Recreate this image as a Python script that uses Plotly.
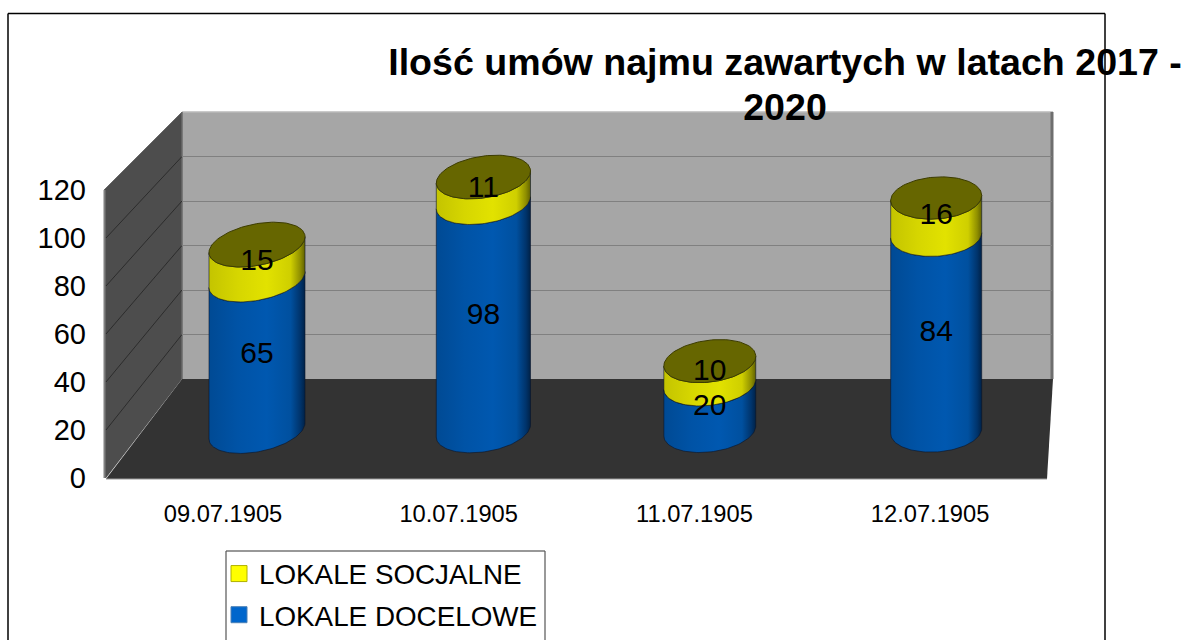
import numpy as np
import plotly.graph_objects as go

categories = ["09.07.1905", "10.07.1905", "11.07.1905", "12.07.1905"]
docelowe = [65, 98, 20, 84]
socjalne = [15, 11, 10, 16]
y_ticks = [0, 20, 40, 60, 80, 100, 120]
title_text = '<span style="font-size:37.6px">Ilość umów najmu zawartych w latach 2017 -<br>2020</span>'
W, H = 1184, 640


def px(x):
    return x / W


def py(y):
    return 1 - y / H


# cylinder projection (axis units)
half_w = [0.212, 0.208, 0.203, 0.201]
tilt = [3.4, 2.6, 2.1, 1.1]
minor = 9.0
BLUE = [[0, "#004a94"], [0.3, "#0053a6"], [0.6, "#0058b0"], [0.85, "#00509f"], [0.95, "#00346c"], [1, "#002248"]]
YEL = [[0, "#c4c400"], [0.3, "#d6d600"], [0.6, "#e2e200"], [0.85, "#cfcf00"], [0.95, "#8f8f00"], [1, "#626200"]]
OUT = "rgba(10,20,40,0.6)"


def arc(i, level, t):
    return i + half_w[i] * np.cos(t), level + tilt[i] * np.cos(t) - minor * np.sin(t)


def body(i, v0, v1, scale):
    tb = np.linspace(np.pi, 0, 60)
    tt = np.linspace(0, np.pi, 60)
    x0, y0 = arc(i, v0, tb)
    x1, y1 = arc(i, v1, tt)
    return go.Scatter(
        x=np.r_[x0, x1, x0[0]], y=np.r_[y0, y1, y0[0]], xaxis="x2", yaxis="y2",
        mode="lines", fill="toself", line=dict(color=OUT, width=1),
        fillgradient=dict(type="horizontal", colorscale=scale, start=i - half_w[i], stop=i + half_w[i]),
        showlegend=False, hoverinfo="skip",
    )


fig = go.Figure()

# activates the back-wall grid subplot
fig.add_trace(go.Scatter(x=[0], y=[0], mode="none", showlegend=False, hoverinfo="skip"))

for i in range(len(categories)):
    fig.add_trace(body(i, 0, docelowe[i], BLUE))
for i in range(len(categories)):
    fig.add_trace(body(i, docelowe[i], docelowe[i] + socjalne[i], YEL))
for i in range(len(categories)):
    t = np.linspace(0, 2 * np.pi, 120)
    xe, ye = arc(i, docelowe[i] + socjalne[i], t)
    fig.add_trace(go.Scatter(x=xe, y=ye, xaxis="x2", yaxis="y2", mode="lines", fill="toself",
                             fillcolor="#666600", line=dict(color="#3c3c00", width=1),
                             showlegend=False, hoverinfo="skip"))

idx = list(range(len(categories)))
fig.add_trace(go.Scatter(x=idx, y=[d / 2 for d in docelowe], xaxis="x2", yaxis="y2", mode="text",
                         text=[str(d) for d in docelowe], textposition="middle center",
                         textfont=dict(family="Liberation Sans", size=30, color="black"),
                         showlegend=False, hoverinfo="skip"))
fig.add_trace(go.Scatter(x=idx, y=[d + s / 2 for d, s in zip(docelowe, socjalne)], xaxis="x2", yaxis="y2",
                         mode="text", text=[str(s) for s in socjalne], textposition="middle center",
                         textfont=dict(family="Liberation Sans", size=30, color="black"),
                         showlegend=False, hoverinfo="skip"))

# legend + tick axes
for name, col, edge, grp in [("LOKALE SOCJALNE", "#ffff00", "#b0b000", "a"), ("LOKALE DOCELOWE", "#0066cc", "#4a7fb5", "b")]:
    fig.add_trace(go.Scatter(x=[None], y=[None], xaxis="x3", yaxis="y3", mode="markers", name=name,
                             legendgroup=grp,
                             marker=dict(symbol="square", size=16, color=col, line=dict(color=edge, width=1))))

shapes = []


def poly(points, fill, line=None, w=0):
    path = "M " + " L ".join(f"{px(a):.5f},{py(b):.5f}" for a, b in points) + " Z"
    shapes.append(dict(type="path", xref="paper", yref="paper", path=path, fillcolor=fill,
                       line=dict(color=line or fill, width=w), layer="below"))


def seg(x0, y0, x1, y1, color, w=1, layer="below"):
    shapes.append(dict(type="line", xref="paper", yref="paper", x0=px(x0), y0=py(y0), x1=px(x1), y1=py(y1),
                       line=dict(color=color, width=w), layer=layer))


poly([(182, 112), (1052, 112), (1052, 379), (182, 379)], "#a6a6a6")
poly([(104, 190), (182, 112), (182, 379), (106, 478), (104, 478)], "#4d4d4d")
poly([(182, 379), (1053, 379), (1047, 479), (106, 479)], "#333333")
seg(182, 112, 1053, 112, "#b8b8b8", 1.5)
seg(1052, 112, 1052, 379, "#6e6e6e", 3)
seg(182, 112, 182, 379, "#6a6a6a", 1.5)
seg(104.5, 190, 104.5, 478, "#808080", 2)
seg(104, 190, 182, 112, "#6a6a6a", 1)
seg(106, 479, 1047, 479, "#9a9a9a", 1)
for v in y_ticks[1:-1]:
    seg(106, 478 - 2.4 * v, 182, 379 - 2.225 * v, "#2c2c2c", 1)

# page frame
seg(8, 13.5, 1105, 13.5, "black", 1.5)
seg(8, 13.5, 8, 640, "black", 1.5)
seg(1105, 13.5, 1105, 640, "black", 1.5)
# legend box, cut by the bottom of the page
seg(226, 551, 545, 551, "#333333", 1.2)
seg(226, 551, 226, 640, "#555555", 1.2)
seg(545, 551, 545, 640, "#555555", 1.2)

fig.update_layout(
    width=W, height=H, margin=dict(l=0, r=0, t=0, b=0, autoexpand=False), autosize=False,
    paper_bgcolor="white", plot_bgcolor="rgba(0,0,0,0)", shapes=shapes,
    font=dict(family="Liberation Sans", color="black"),
    title=dict(text=title_text, x=785 / W, xanchor="center", y=py(75), yanchor="top",
               font=dict(family="Liberation Sans", size=34.6, color="black", weight="bold")),
    # back wall grid
    xaxis=dict(domain=[px(182), px(1052)], range=[0, 1], visible=False, fixedrange=True),
    yaxis=dict(domain=[py(379), py(112)], range=[0, 120], dtick=20, showgrid=True, gridcolor="#808080", gridwidth=1.3,
               zeroline=False, showticklabels=False, ticks="", showline=False, fixedrange=True),
    # cylinders
    xaxis2=dict(domain=[0, 1], range=[-257 / 226.4, (W - 257) / 226.4], visible=False, anchor="y2", fixedrange=True),
    yaxis2=dict(domain=[0, 1], range=[-(H - 431) / 2.33, 431 / 2.33], visible=False, anchor="x2", fixedrange=True),
    # tick labels
    xaxis3=dict(domain=[0, 1], range=[-223 / 235.7, (W - 223) / 235.7], anchor="free", position=py(497),
                tickmode="array", tickvals=idx, ticktext=categories, ticks="", showgrid=False, zeroline=False,
                showline=False, tickfont=dict(size=23.7, family="Liberation Sans", color="black"), fixedrange=True),
    yaxis3=dict(domain=[0, 1], range=[-(H - 478) / 2.4, 478 / 2.4], anchor="free", position=px(86),
                tickmode="array", tickvals=y_ticks, ticks="", showgrid=False, zeroline=False, showline=False,
                tickfont=dict(size=29, family="Liberation Sans", color="black"), fixedrange=True),
    legend=dict(x=px(219), xanchor="left", y=py(549), yanchor="top", bgcolor="rgba(0,0,0,0)", borderwidth=0,
                font=dict(size=27.8, family="Liberation Sans", color="black"), tracegroupgap=2,
                itemsizing="trace"),
    showlegend=True,
)

fig.write_html("out.html", post_script="document.body.style.margin='0';document.body.style.overflow='hidden';",
               config={"displayModeBar": False})
